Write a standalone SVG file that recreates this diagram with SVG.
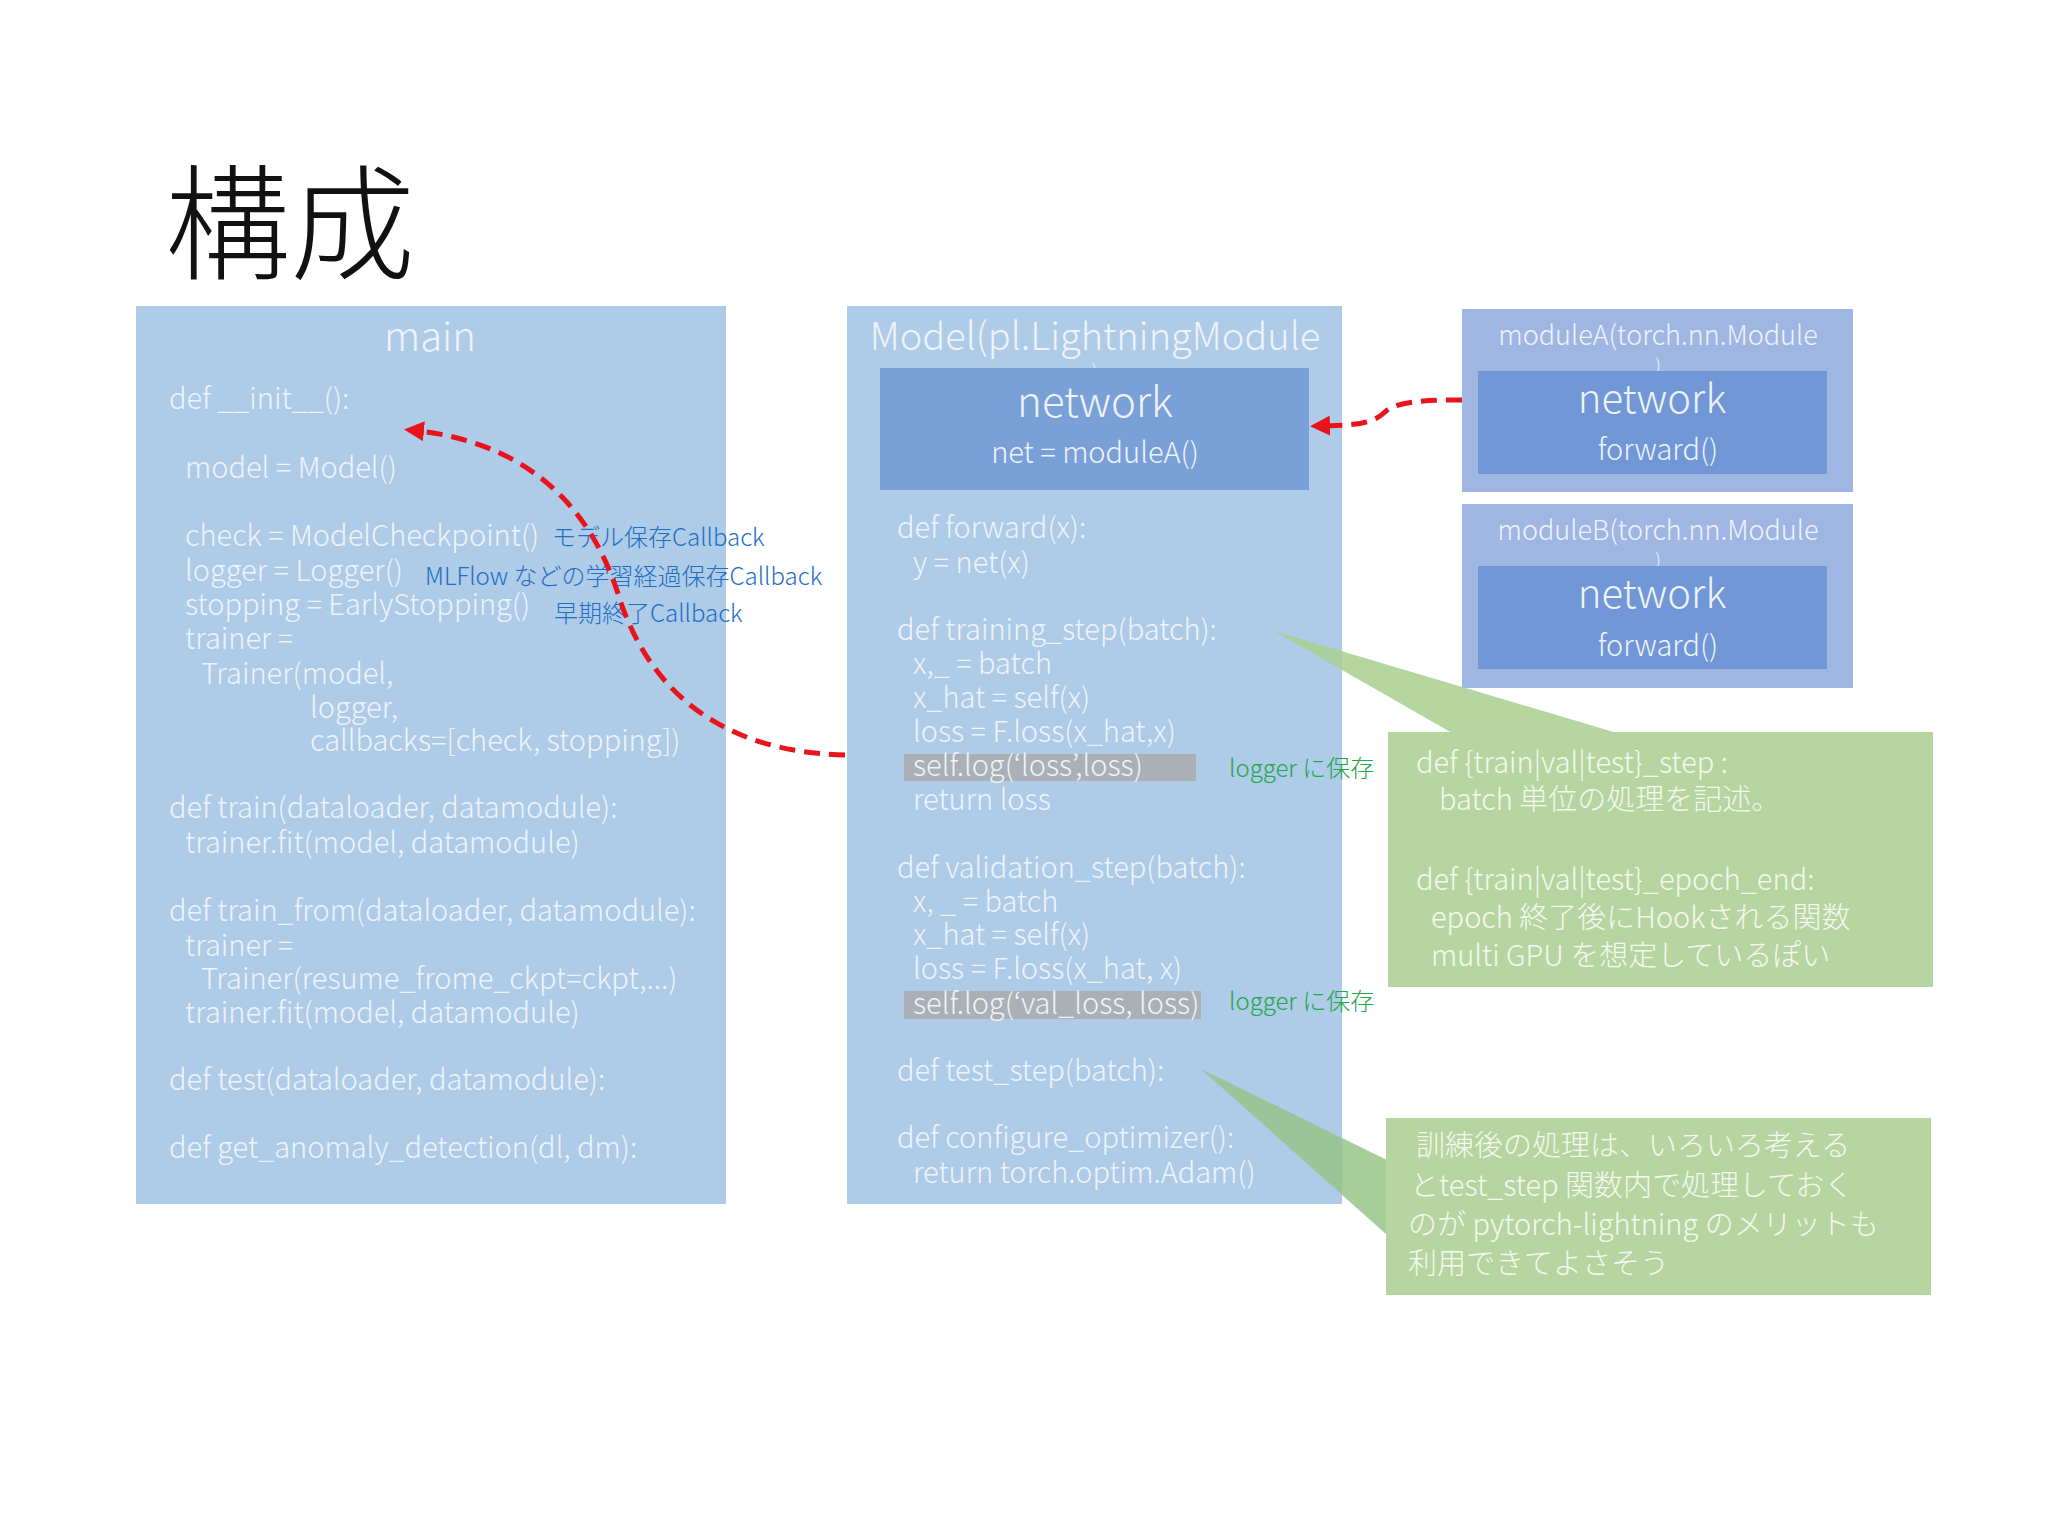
<svg xmlns="http://www.w3.org/2000/svg" width="2048" height="1536" viewBox="0 0 2048 1536">
<defs>
<style>
text{font-family:"Noto Sans CJK JP","Liberation Sans",sans-serif;font-weight:300}
.c{fill:#eef3fa;font-size:29px}
.b{fill:#1e6fc6;font-size:24px}
.g{fill:#22a84a;font-size:24px}
.w{fill:#f4f8f0;font-size:29px}
.ar{fill:none;stroke:#e8131b;stroke-width:5;stroke-dasharray:16 9}
</style>
<marker id="ah" viewBox="0 0 10 10" refX="7" refY="5" markerWidth="4" markerHeight="4" orient="auto-start-reverse"><path d="M0,0L10,5L0,10z" fill="#e8131b"/></marker>
</defs>
<rect width="2048" height="1536" fill="#fff"/>
<text x="165" y="270" font-size="125" fill="#111">構成</text>

<g id="main">
<rect x="136" y="306" width="590" height="898" fill="#aecbe8"/>
<text x="430" y="351" font-size="40" fill="#eef3fa" text-anchor="middle">main</text>
<text class="c" x="169" y="409">def __init__():</text>
<text class="c" x="185" y="478">model = Model()</text>
<text class="c" x="185" y="546">check = ModelCheckpoint()</text>
<text class="c" x="185" y="581">logger = Logger()</text>
<text class="c" x="185" y="615">stopping = EarlyStopping()</text>
<text class="c" x="185" y="649">trainer =</text>
<text class="c" x="201" y="684">Trainer(model,</text>
<text class="c" x="310" y="718">logger,</text>
<text class="c" x="310" y="751">callbacks=[check, stopping])</text>
<text class="c" x="169" y="818">def train(dataloader, datamodule):</text>
<text class="c" x="185" y="853">trainer.fit(model, datamodule)</text>
<text class="c" x="169" y="921">def train_from(dataloader, datamodule):</text>
<text class="c" x="185" y="956">trainer =</text>
<text class="c" x="201" y="989">Trainer(resume_frome_ckpt=ckpt,...)</text>
<text class="c" x="185" y="1023">trainer.fit(model, datamodule)</text>
<text class="c" x="169" y="1090">def test(dataloader, datamodule):</text>
<text class="c" x="169" y="1158">def get_anomaly_detection(dl, dm):</text>
<text class="b" x="552" y="546">モデル保存Callback</text>
<text class="b" x="425" y="585">MLFlow などの学習経過保存Callback</text>
<text class="b" x="554" y="622">早期終了Callback</text>
</g>

<g id="model">
<rect x="847" y="306" width="495" height="898" fill="#aecbe8"/>
<text x="1095" y="350" font-size="38" fill="#eef3fa" text-anchor="middle">Model(pl.LightningModule</text>
<text x="1095" y="381" font-size="22" fill="#eef3fa" text-anchor="middle">)</text>
<rect x="880" y="368" width="429" height="122" fill="#7aa0d8"/>
<text x="1095" y="417" font-size="42" fill="#eef3fa" text-anchor="middle">network</text>
<text x="1095" y="463" class="c" text-anchor="middle">net = moduleA()</text>
<rect x="904" y="754" width="292" height="27" fill="#a9a9a9" opacity="0.8"/>
<rect x="904" y="991" width="297" height="28" fill="#a9a9a9" opacity="0.8"/>
<text class="c" x="897" y="538">def forward(x):</text>
<text class="c" x="913" y="573">y = net(x)</text>
<text class="c" x="897" y="640">def training_step(batch):</text>
<text class="c" x="913" y="674">x,_ = batch</text>
<text class="c" x="913" y="708">x_hat = self(x)</text>
<text class="c" x="913" y="742">loss = F.loss(x_hat,x)</text>
<text class="c" x="913" y="776">self.log(‘loss’,loss)</text>
<text class="c" x="913" y="810">return loss</text>
<text class="c" x="897" y="878">def validation_step(batch):</text>
<text class="c" x="913" y="912">x, _ = batch</text>
<text class="c" x="913" y="945">x_hat = self(x)</text>
<text class="c" x="913" y="979">loss = F.loss(x_hat, x)</text>
<text class="c" x="913" y="1014">self.log(‘val_loss, loss)</text>
<text class="c" x="897" y="1081">def test_step(batch):</text>
<text class="c" x="897" y="1148">def configure_optimizer():</text>
<text class="c" x="913" y="1183">return torch.optim.Adam()</text>
<text class="g" x="1229" y="777">logger に保存</text>
<text class="g" x="1229" y="1010">logger に保存</text>
</g>

<g id="moduleA">
<rect x="1462" y="309" width="391" height="183" fill="#a0b6e2"/>
<text x="1658" y="345" font-size="27" fill="#eef3fa" text-anchor="middle">moduleA(torch.nn.Module</text>
<text x="1658" y="372" font-size="18" fill="#eef3fa" text-anchor="middle">)</text>
<rect x="1478" y="371" width="349" height="103" fill="#7197d6"/>
<text x="1652" y="413" font-size="40" fill="#eef3fa" text-anchor="middle">network</text>
<text x="1658" y="460" class="c" text-anchor="middle">forward()</text>
</g>
<g id="moduleB">
<rect x="1462" y="504" width="391" height="184" fill="#a0b6e2"/>
<text x="1658" y="540" font-size="27" fill="#eef3fa" text-anchor="middle">moduleB(torch.nn.Module</text>
<text x="1658" y="567" font-size="18" fill="#eef3fa" text-anchor="middle">)</text>
<rect x="1478" y="566" width="349" height="103" fill="#7197d6"/>
<text x="1652" y="608" font-size="40" fill="#eef3fa" text-anchor="middle">network</text>
<text x="1658" y="656" class="c" text-anchor="middle">forward()</text>
</g>

<g id="note1">
<path d="M1274,631 L1452,733 L1617,733 Z" fill="#a9cf8f" opacity="0.85"/>
<rect x="1388" y="732" width="545" height="255" fill="#b6d5a0"/>
<text class="w" x="1416" y="773">def {train|val|test}_step :</text>
<text class="w" x="1439" y="810">batch 単位の処理を記述。</text>
<text class="w" x="1416" y="890">def {train|val|test}_epoch_end:</text>
<text class="w" x="1431" y="928">epoch 終了後にHookされる関数</text>
<text class="w" x="1431" y="966">multi GPU を想定しているぽい</text>
</g>
<g id="note2">
<path d="M1201,1069 L1387,1160 L1387,1235 Z" fill="#98c48a" opacity="0.85"/>
<rect x="1386" y="1118" width="545" height="177" fill="#b6d5a0"/>
<text class="w" x="1416" y="1156" font-size="31">訓練後の処理は、いろいろ考える</text>
<text class="w" x="1410" y="1196" font-size="31">とtest_step 関数内で処理しておく</text>
<text class="w" x="1408" y="1235" font-size="31">のが pytorch-lightning のメリットも</text>
<text class="w" x="1408" y="1274" font-size="31">利用できてよさそう</text>
</g>

<g id="connectors">
<path class="ar" d="M845,755 C720,752 650,690 620,600 C590,500 520,440 410,430" marker-end="url(#ah)"/>
<path class="ar" d="M1462,400 C1420,400 1395,402 1385,412 C1370,426 1350,425 1316,426" marker-end="url(#ah)"/>
</g>
</svg>
